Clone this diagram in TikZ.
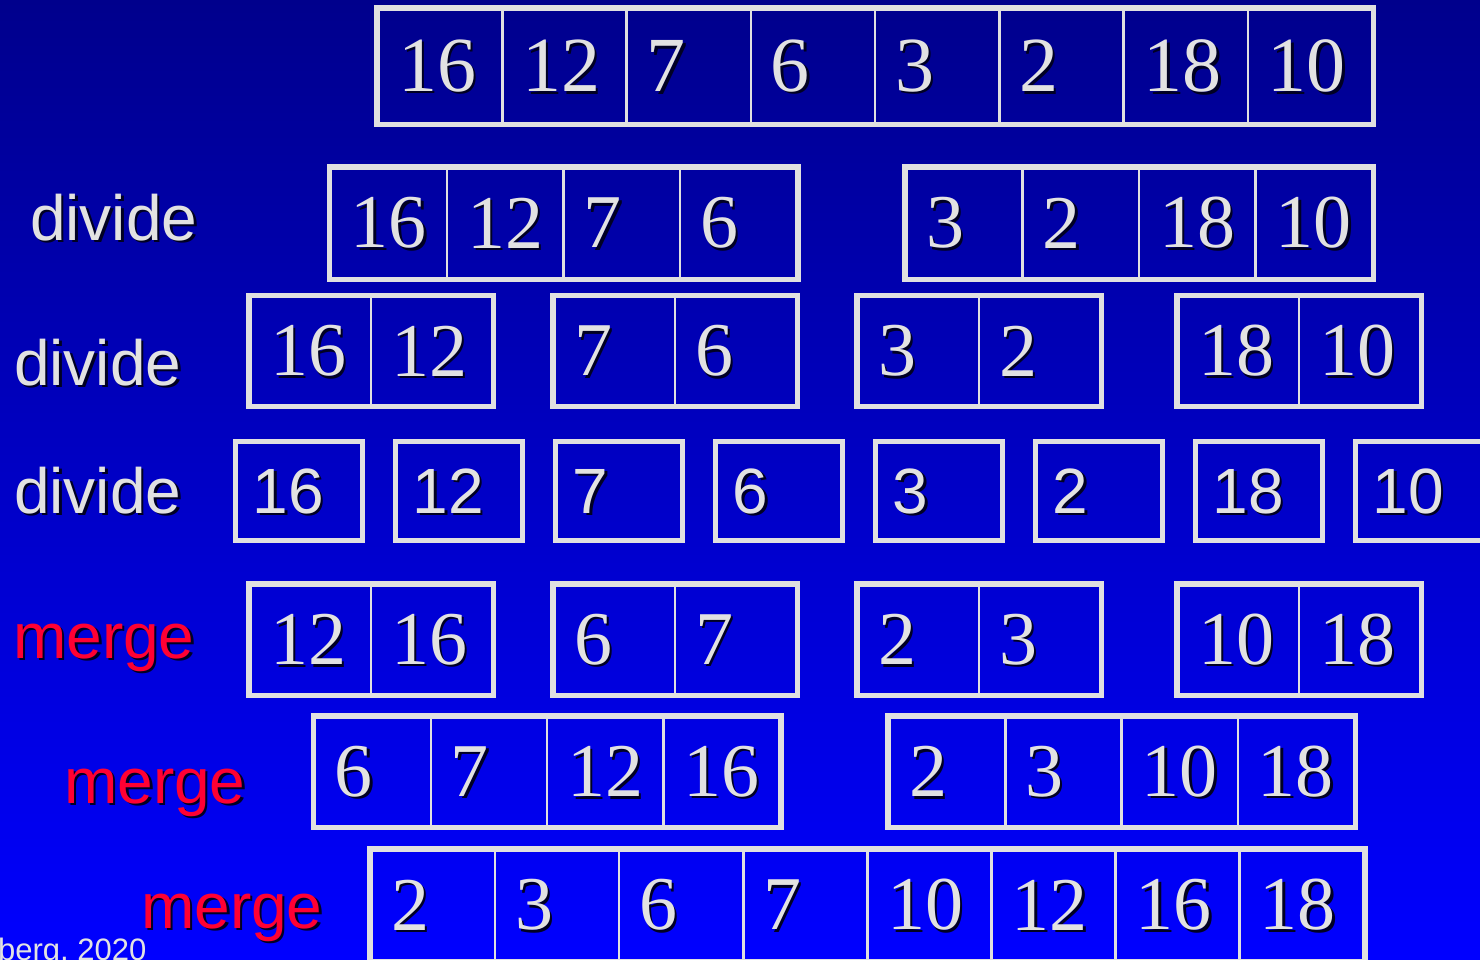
\documentclass[tikz,border=0pt]{standalone}
\usepackage{fontspec}
\newfontfamily\numfont{Liberation Serif}
\newfontfamily\lblfont{Liberation Sans}
\definecolor{bgtop}{RGB}{0,0,140}
\definecolor{bgmid}{RGB}{0,0,215}
\definecolor{bgbot}{RGB}{0,0,255}
\definecolor{ink}{RGB}{226,226,226}
\definecolor{edge}{RGB}{224,224,224}
\definecolor{mred}{RGB}{255,0,51}
\definecolor{shade}{RGB}{0,0,35}
% text with a dark drop shadow
\newcommand{\sh}[1]{\rlap{\kern2.5pt\smash{\raisebox{-2.5pt}{\textcolor{shade}{#1}}}}#1}

\begin{document}
\begin{tikzpicture}[x=1pt, y=-1pt,
    cell/.style={draw=edge, line width=2.5pt, inner xsep=20pt, inner ysep=0pt,
      align=left, text=ink, font=\numfont\fontsize{76}{76}\selectfont},
    single/.style={cell, line width=5pt, inner xsep=17pt,
      font=\lblfont\fontsize{64}{64}\selectfont},
    frame/.style={draw=edge, line width=5.5pt},
    lbl/.style={anchor=base west, inner sep=0pt, text=ink,
      font=\lblfont\fontsize{64}{64}\selectfont},
    mlbl/.style={lbl, text=mred}]

  \useasboundingbox (0,0) rectangle (1480,959);
  \fill[top color=bgtop, middle color=bgmid, bottom color=bgbot] (0,0) rectangle (1480,959);

  % whole array
  \foreach \v [count=\k] in {16,12,7,6,3,2,18,10}
    \node[cell, minimum width=124.25pt, minimum height=114pt, text width=84.25pt,
      font=\numfont\fontsize{78}{78}\selectfont] (a\k) at ({378+(\k-0.5)*124.25}, 66) {\sh{\v}};
  \draw[frame] (a1.north west) rectangle (a8.south east);

  % divide
  \foreach \x/\l [count=\j] in {330.5/{16,12,7,6}, 906/{3,2,18,10}} {
    \foreach \v [count=\k] in \l
      \node[cell, minimum width=116.5pt, minimum height=110pt, text width=76.5pt]
        (b\j-\k) at ({\x+(\k-0.5)*116.5}, 223) {\sh{\v}};
    \draw[frame] (b\j-1.north west) rectangle (b\j-4.south east);
  }

  \foreach \x/\p/\q [count=\j] in {250/16/12, 554/7/6, 858/3/2, 1178/18/10} {
    \node[cell, minimum width=121pt, minimum height=108.5pt, text width=81pt]
      (c\j-1) at ({\x+60.5}, 351) {\sh{\p}};
    \node[cell, minimum width=121pt, minimum height=108.5pt, text width=81pt]
      (c\j-2) at ({\x+181.5}, 351) {\sh{\q}};
    \draw[frame] (c\j-1.north west) rectangle (c\j-2.south east);
  }

  \foreach \v [count=\k] in {16,12,7,6,3,2,18,10}
    \node[single, minimum width=127pt, minimum height=99.5pt, text width=93pt]
      (d\k) at ({299+160*(\k-1)}, 491) {\sh{\v}};

  % merge
  \foreach \x/\p/\q [count=\j] in {250/12/16, 554/6/7, 858/2/3, 1178/10/18} {
    \node[cell, minimum width=121pt, minimum height=109pt, text width=81pt]
      (e\j-1) at ({\x+60.5}, 639.5) {\sh{\p}};
    \node[cell, minimum width=121pt, minimum height=109pt, text width=81pt]
      (e\j-2) at ({\x+181.5}, 639.5) {\sh{\q}};
    \draw[frame] (e\j-1.north west) rectangle (e\j-2.south east);
  }

  \foreach \x/\l [count=\j] in {314.5/{6,7,12,16}, 889/{2,3,10,18}} {
    \foreach \v [count=\k] in \l
      \node[cell, minimum width=116.3pt, minimum height=109pt, text width=76.3pt]
        (f\j-\k) at ({\x+(\k-0.5)*116.3}, 771.5) {\sh{\v}};
    \draw[frame] (f\j-1.north west) rectangle (f\j-4.south east);
  }

  \foreach \v [count=\k] in {2,3,6,7,10,12,16,18}
    \node[cell, minimum width=124.1pt, minimum height=110pt, text width=84.1pt]
      (g\k) at ({371+(\k-0.5)*124.1}, 905) {\sh{\v}};
  \draw[frame] (g1.north west) rectangle (g8.south east);

  % row labels
  \node[lbl] (div1) at (30,240) {\sh{divide}};
  \node[lbl] (div2) at (14,385) {\sh{divide}};
  \node[lbl] (div3) at (14,513) {\sh{divide}};
  \node[mlbl] (mrg1) at (13,658) {\sh{merge}};
  \node[mlbl] (mrg2) at (64,803) {\sh{merge}};
  \node[mlbl] (mrg3) at (141,928) {\sh{merge}};
  \node[lbl, font=\lblfont\fontsize{31}{31}\selectfont] (cred) at (-2,960) {berg, 2020};
\end{tikzpicture}
\end{document}
